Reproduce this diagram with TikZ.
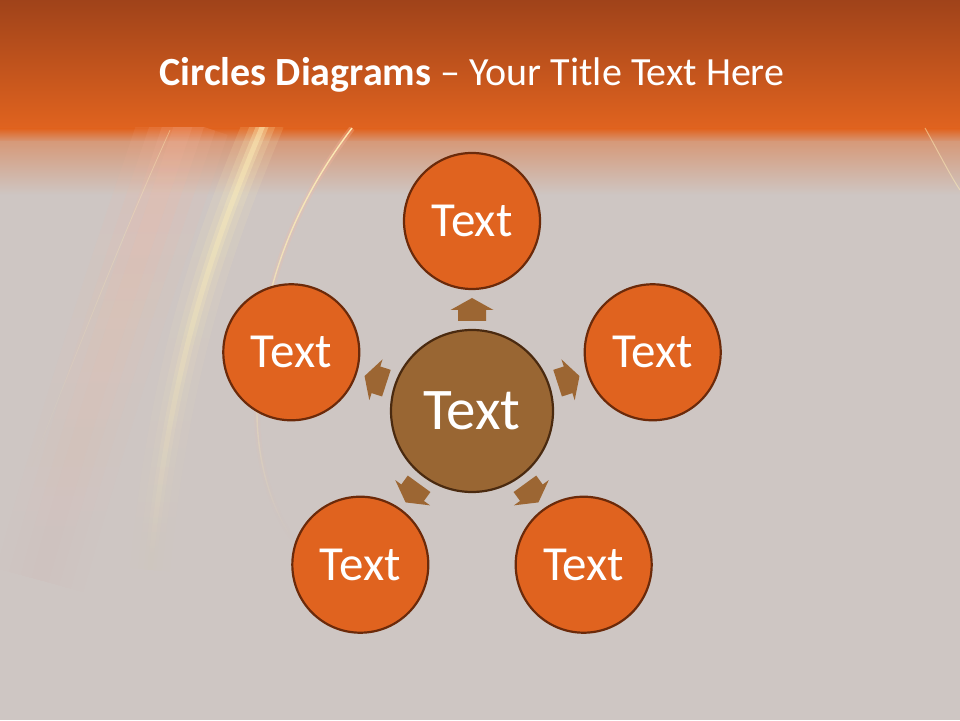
\documentclass[tikz,border=0pt]{standalone}
\usepackage{fontspec}
\setmainfont{Carlito}
\usetikzlibrary{calc,fadings}
\definecolor{bgtop}{HTML}{A0431A}
\definecolor{bgor}{HTML}{E0631F}
\definecolor{bggray}{HTML}{CEC6C3}
\definecolor{circfill}{HTML}{E0631F}
\definecolor{circline}{HTML}{6B2A0A}
\definecolor{cenfill}{HTML}{996633}
\definecolor{cenline}{HTML}{4A2A10}
\definecolor{arrfill}{HTML}{9C6633}
\definecolor{glowpink}{HTML}{FAB8A0}
\definecolor{glowyel}{HTML}{FFF0B8}
\begin{document}
\begin{tikzpicture}[x=1pt,y=1pt,
  outercirc/.style={circle, fill=circfill, draw=circline, line width=2.2pt,
    minimum size=136pt, inner sep=0pt, text=white, font=\fontsize{49}{49}\selectfont},
  hubcirc/.style={circle, fill=cenfill, draw=cenline, line width=2.2pt,
    minimum size=162pt, inner sep=0pt, text=white, font=\fontsize{59}{59}\selectfont},
  blockarrow/.style={fill=arrfill, draw=none},
  titletext/.style={text=white, font=\fontsize{40}{40}\selectfont},
  glowline/.style={line cap=butt, path fading=south}]
\useasboundingbox (0,0) rectangle (960,720);
% background
\fill[bggray] (0,0) rectangle (960,720);
\shade[top color=bgtop, bottom color=bgor] (0,720) rectangle (960,591);
\shade[top color=bgor, bottom color=bgor!45!bggray] (0,591.5) rectangle (960,578);
\shade[top color=bgor!45!bggray, bottom color=bggray] (0,578.5) rectangle (960,525);
% soft streaks
\begin{scope}
\clip (0,0) rectangle (960,592);
\foreach \w/\o in {90/0.10, 64/0.12, 40/0.14, 18/0.12} {
  \draw[glowpink, glowline, line width=\w pt, opacity=\o]
    (185,600) .. controls (145,480) and (95,340) .. (40,140);
}
\foreach \w/\o in {40/0.14, 24/0.20, 12/0.32, 5/0.45} {
  \draw[glowyel, glowline, line width=\w pt, opacity=\o]
    (265,600) .. controls (215,480) and (170,360) .. (150,150);
}
\draw[glowyel, glowline, line width=0.8pt, opacity=0.4]
  (170,590) .. controls (120,480) and (70,350) .. (30,250);
\draw[glowpink, glowline, line width=6pt, opacity=0.3]
  (352,592) .. controls (290,510) and (255,420) .. (257,304) .. controls (258,250) and (275,205) .. (293,181);
\draw[glowyel, glowline, line width=1.4pt, opacity=0.95]
  (352,592) .. controls (290,510) and (255,420) .. (257,304) .. controls (258,250) and (275,205) .. (293,181);
\draw[glowyel, line width=1pt, opacity=0.5]
  (925,592) .. controls (940,565) and (950,545) .. (960,530);
\end{scope}
% title
\node[titletext] (title) at (472,645) {\textbf{Circles Diagrams} – Your Title Text Here};
% circles
\node[hubcirc] (c) at (472,309) {Text};
\node[outercirc] (t) at ($(c)+(90:190pt)$) {Text};
\node[outercirc] (r) at ($(c)+(18:190pt)$) {Text};
\node[outercirc] (br) at ($(c)+(-54:190pt)$) {Text};
\node[outercirc] (bl) at ($(c)+(-126:190pt)$) {Text};
\node[outercirc] (l) at ($(c)+(162:190pt)$) {Text};
% block arrows
\foreach \a in {90,18,-54,-126,162} {
  \fill[blockarrow, shift={(c.center)}, rotate=\a]
    (90,-14) -- (101,-14) -- (101,-21.5) -- (113,0) -- (101,21.5) -- (101,14) -- (90,14) -- cycle;
}
\end{tikzpicture}
\end{document}
